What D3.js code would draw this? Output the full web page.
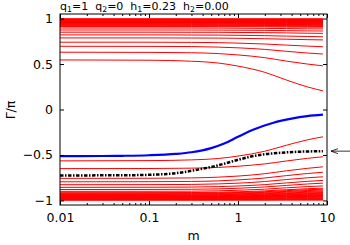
<!DOCTYPE html>
<html><head><meta charset="utf-8">
<script src="https://cdn.jsdelivr.net/npm/d3@7"></script>
<style>
body{margin:0;background:#fff;}
text{font-family:"DejaVu Sans",sans-serif;}
</style></head><body>
<script>
// x grid (m) for the red eigen-phase lines
const redM = [0.01, 0.1, 0.3, 0.6, 1, 2, 3.5, 6, 9];
// upper family of red lines (Γ/π)
const topLines = [
[0.545,0.542,0.531,0.511,0.477,0.409,0.324,0.249,0.205],
[0.630,0.628,0.624,0.615,0.600,0.570,0.532,0.500,0.480],
[0.695,0.694,0.692,0.686,0.678,0.661,0.640,0.621,0.610],
[0.740,0.740,0.738,0.735,0.730,0.720,0.708,0.697,0.690],
[0.787,0.787,0.786,0.785,0.783,0.778,0.773,0.768,0.765],
[0.820,0.820,0.819,0.818,0.816,0.812,0.807,0.803,0.800],
[0.850,0.850,0.849,0.849,0.847,0.845,0.842,0.839,0.837],
[0.874,0.874,0.874,0.873,0.872,0.870,0.867,0.864,0.863],
[0.896,0.896,0.896,0.895,0.894,0.892,0.890,0.887,0.886],
[0.912,0.912,0.912,0.911,0.911,0.909,0.907,0.906,0.905],
[0.919,0.919,0.919,0.918,0.918,0.917,0.915,0.914,0.913],
[0.926,0.926,0.926,0.925,0.925,0.924,0.922,0.921,0.920],
[0.932,0.932,0.932,0.931,0.931,0.930,0.929,0.928,0.927],
[0.938,0.938,0.938,0.937,0.937,0.936,0.935,0.934,0.933],
[0.943,0.943,0.943,0.943,0.942,0.941,0.940,0.940,0.939],
[0.948,0.948,0.948,0.948,0.947,0.946,0.945,0.945,0.944],
[0.953,0.953,0.953,0.953,0.952,0.952,0.951,0.950,0.950],
[0.957,0.957,0.957,0.957,0.956,0.956,0.955,0.954,0.954],
[0.961,0.961,0.961,0.961,0.961,0.960,0.960,0.959,0.959],
[0.964,0.964,0.964,0.964,0.964,0.963,0.963,0.962,0.962],
[0.967,0.967,0.967,0.967,0.967,0.966,0.966,0.966,0.965],
[0.970,0.970,0.970,0.970,0.970,0.969,0.969,0.968,0.968],
[0.975,0.975,0.975,0.975,0.975,0.975,0.974,0.974,0.974],
[0.980,0.980,0.980,0.980,0.980,0.980,0.979,0.979,0.979],
[0.984,0.984,0.984,0.984,0.984,0.984,0.983,0.983,0.983],
[0.988,0.988,0.988,0.988,0.988,0.988,0.987,0.987,0.987],
[0.991,0.991,0.991,0.991,0.991,0.991,0.991,0.991,0.991],
[0.994,0.994,0.994,0.994,0.994,0.994,0.994,0.994,0.994],
[0.997,0.997,0.997,0.997,0.997,0.997,0.997,0.997,0.997]
];
// lower family of red lines (Γ/π)
const bottomLines = [
[-0.565,-0.562,-0.554,-0.539,-0.512,-0.459,-0.393,-0.334,-0.300],
[-0.650,-0.649,-0.645,-0.637,-0.624,-0.598,-0.566,-0.537,-0.520],
[-0.757,-0.756,-0.752,-0.744,-0.732,-0.706,-0.674,-0.647,-0.630],
[-0.795,-0.794,-0.791,-0.785,-0.774,-0.753,-0.727,-0.704,-0.690],
[-0.827,-0.826,-0.824,-0.818,-0.810,-0.792,-0.770,-0.751,-0.740],
[-0.856,-0.855,-0.853,-0.848,-0.841,-0.826,-0.807,-0.790,-0.780],
[-0.880,-0.879,-0.877,-0.873,-0.866,-0.852,-0.835,-0.819,-0.810],
[-0.900,-0.899,-0.898,-0.894,-0.888,-0.876,-0.861,-0.848,-0.840],
[-0.915,-0.914,-0.913,-0.910,-0.905,-0.895,-0.882,-0.871,-0.865],
[-0.921,-0.921,-0.920,-0.917,-0.913,-0.904,-0.892,-0.882,-0.876],
[-0.928,-0.928,-0.926,-0.924,-0.920,-0.911,-0.901,-0.891,-0.886],
[-0.934,-0.934,-0.933,-0.931,-0.927,-0.919,-0.909,-0.901,-0.896],
[-0.940,-0.940,-0.939,-0.937,-0.933,-0.926,-0.917,-0.910,-0.905],
[-0.945,-0.945,-0.944,-0.942,-0.939,-0.932,-0.924,-0.918,-0.913],
[-0.950,-0.950,-0.949,-0.947,-0.944,-0.938,-0.931,-0.925,-0.921],
[-0.955,-0.955,-0.954,-0.952,-0.949,-0.944,-0.937,-0.932,-0.928],
[-0.959,-0.959,-0.958,-0.957,-0.954,-0.949,-0.943,-0.938,-0.935],
[-0.963,-0.963,-0.962,-0.961,-0.958,-0.954,-0.949,-0.944,-0.941],
[-0.966,-0.966,-0.965,-0.964,-0.962,-0.958,-0.954,-0.949,-0.947],
[-0.969,-0.969,-0.968,-0.967,-0.966,-0.962,-0.958,-0.954,-0.952],
[-0.972,-0.972,-0.971,-0.970,-0.969,-0.966,-0.962,-0.959,-0.957],
[-0.977,-0.977,-0.977,-0.976,-0.975,-0.972,-0.969,-0.967,-0.965],
[-0.982,-0.982,-0.982,-0.981,-0.980,-0.978,-0.976,-0.974,-0.973],
[-0.986,-0.986,-0.986,-0.985,-0.985,-0.983,-0.981,-0.980,-0.979],
[-0.990,-0.990,-0.990,-0.989,-0.989,-0.988,-0.987,-0.986,-0.985],
[-0.994,-0.994,-0.994,-0.994,-0.993,-0.993,-0.992,-0.991,-0.991],
[-0.997,-0.997,-0.997,-0.997,-0.997,-0.997,-0.996,-0.996,-0.996]
];
// blue curve
const blueM = [0.01, 0.03, 0.05, 0.1, 0.2, 0.3, 0.5, 0.7, 1, 1.5, 2.5, 4, 6, 9];
const blueV = [-0.512,-0.511,-0.509,-0.503,-0.488,-0.470,-0.425,-0.375,-0.300,-0.220,-0.145,-0.100,-0.073,-0.057];
// black dash-dot curve
const blackM = [0.01, 0.05, 0.1, 0.2, 0.35, 0.5, 0.75, 1, 1.5, 2, 3, 5, 9];
const blackV = [-0.725,-0.723,-0.718,-0.700,-0.662,-0.632,-0.588,-0.553,-0.512,-0.492,-0.476,-0.464,-0.458];
// arrow marker on the right side
const arrowValue = -0.458;
// ticks
const xMajor = [0.01, 0.1, 1, 10];
const xMinor = [0.02,0.03,0.04,0.05,0.06,0.07,0.08,0.09,0.2,0.3,0.4,0.5,0.6,0.7,0.8,0.9,2,3,4,5,6,7,8,9];
const yTicks = [-1, -0.5, 0, 0.5, 1];

const W = 350, H = 245;
const L = 60, R = 327, T = 14, B = 205;
const FONT = '"DejaVu Sans",sans-serif';
const svg = d3.select("body").append("svg").attr("width", W).attr("height", H);
const x = d3.scaleLog().domain([0.01, 10]).range([L, R]);
const y = d3.scaleLinear().domain([-1.05, 1.05]).range([B, T]);
const line = d3.line().x(d => x(d[0])).y(d => y(d[1])).curve(d3.curveMonotoneX);

const g = svg.append("g");
function drawRed(arr){
  arr.forEach(vals => {
    g.append("path").attr("d", line(redM.map((m,i)=>[m, vals[i]])))
      .attr("fill","none").attr("stroke","#ff0000").attr("stroke-width",1);
  });
}
drawRed(topLines);
drawRed(bottomLines);
g.append("path").attr("d", line(blueM.map((m,i)=>[m, blueV[i]])))
  .attr("fill","none").attr("stroke","#0000ff").attr("stroke-width",2.2);
g.append("path").attr("d", line(blackM.map((m,i)=>[m, blackV[i]])))
  .attr("fill","none").attr("stroke","#000").attr("stroke-width",2.5)
  .attr("stroke-dasharray","3.5,1.5,1.5,1.5");

// axes
function styleAxis(sel){ sel.select(".domain").remove(); sel.selectAll("line").attr("stroke","#000"); sel.selectAll("text").attr("font-size",12.5).attr("fill","#000").attr("font-family",FONT); }
svg.append("g").attr("transform",`translate(0,${B})`)
  .call(d3.axisBottom(x).tickValues(xMajor).tickFormat(d3.format("~g")).tickSizeInner(-4).tickSizeOuter(0).tickPadding(8)).call(styleAxis);
svg.append("g").attr("transform",`translate(0,${B})`)
  .call(d3.axisBottom(x).tickValues(xMinor).tickFormat("").tickSizeInner(-2).tickSizeOuter(0)).call(styleAxis);
svg.append("g").attr("transform",`translate(0,${T})`)
  .call(d3.axisTop(x).tickValues(xMajor).tickFormat("").tickSizeInner(-4).tickSizeOuter(0)).call(styleAxis);
svg.append("g").attr("transform",`translate(0,${T})`)
  .call(d3.axisTop(x).tickValues(xMinor).tickFormat("").tickSizeInner(-2).tickSizeOuter(0)).call(styleAxis);
svg.append("g").attr("transform",`translate(${L},0)`)
  .call(d3.axisLeft(y).tickValues(yTicks).tickFormat(d3.format("~g")).tickSizeInner(-4).tickSizeOuter(0).tickPadding(7)).call(styleAxis);
svg.append("g").attr("transform",`translate(${R},0)`)
  .call(d3.axisRight(y).tickValues(yTicks).tickFormat("").tickSizeInner(-4).tickSizeOuter(0)).call(styleAxis);

// frame
svg.append("rect").attr("x",L).attr("y",T).attr("width",R-L).attr("height",B-T)
  .attr("fill","none").attr("stroke","#000").attr("stroke-width",1);

// arrow
const ay = y(arrowValue);
svg.append("line").attr("x1",350).attr("x2",331).attr("y1",ay).attr("y2",ay).attr("stroke","#000").attr("stroke-width",0.8);
svg.append("path").attr("d",`M${338},${ay-2.5} L${331},${ay} L${338},${ay+2.5}`).attr("fill","none").attr("stroke","#000").attr("stroke-width",0.8);

// title
const title = svg.append("text").attr("x",L).attr("y",9.8).attr("font-size",11).attr("fill","#000").attr("font-family",FONT).style("white-space","pre");
const parts = [["q",""],["1","s"],["=1  q",""],["2","s"],["=0  h",""],["1","s"],["=0.23  h",""],["2","s"],["=0.00",""]];
parts.forEach((p,i) => {
  const t = title.append("tspan").text(p[0]);
  if (p[1]==="s") t.attr("font-size",7.8).attr("dy",2.5);
  else if (i>0) t.attr("dy",-2.5);
});

// axis labels
svg.append("text").attr("x",(L+R)/2).attr("y",240).attr("text-anchor","middle").attr("font-size",12.5).attr("font-family",FONT).text("m");
svg.append("text").attr("transform",`translate(15,110) rotate(-90)`).attr("text-anchor","middle").attr("font-size",12.5).attr("font-family",FONT).text("Γ/π");
</script>
</body></html>
